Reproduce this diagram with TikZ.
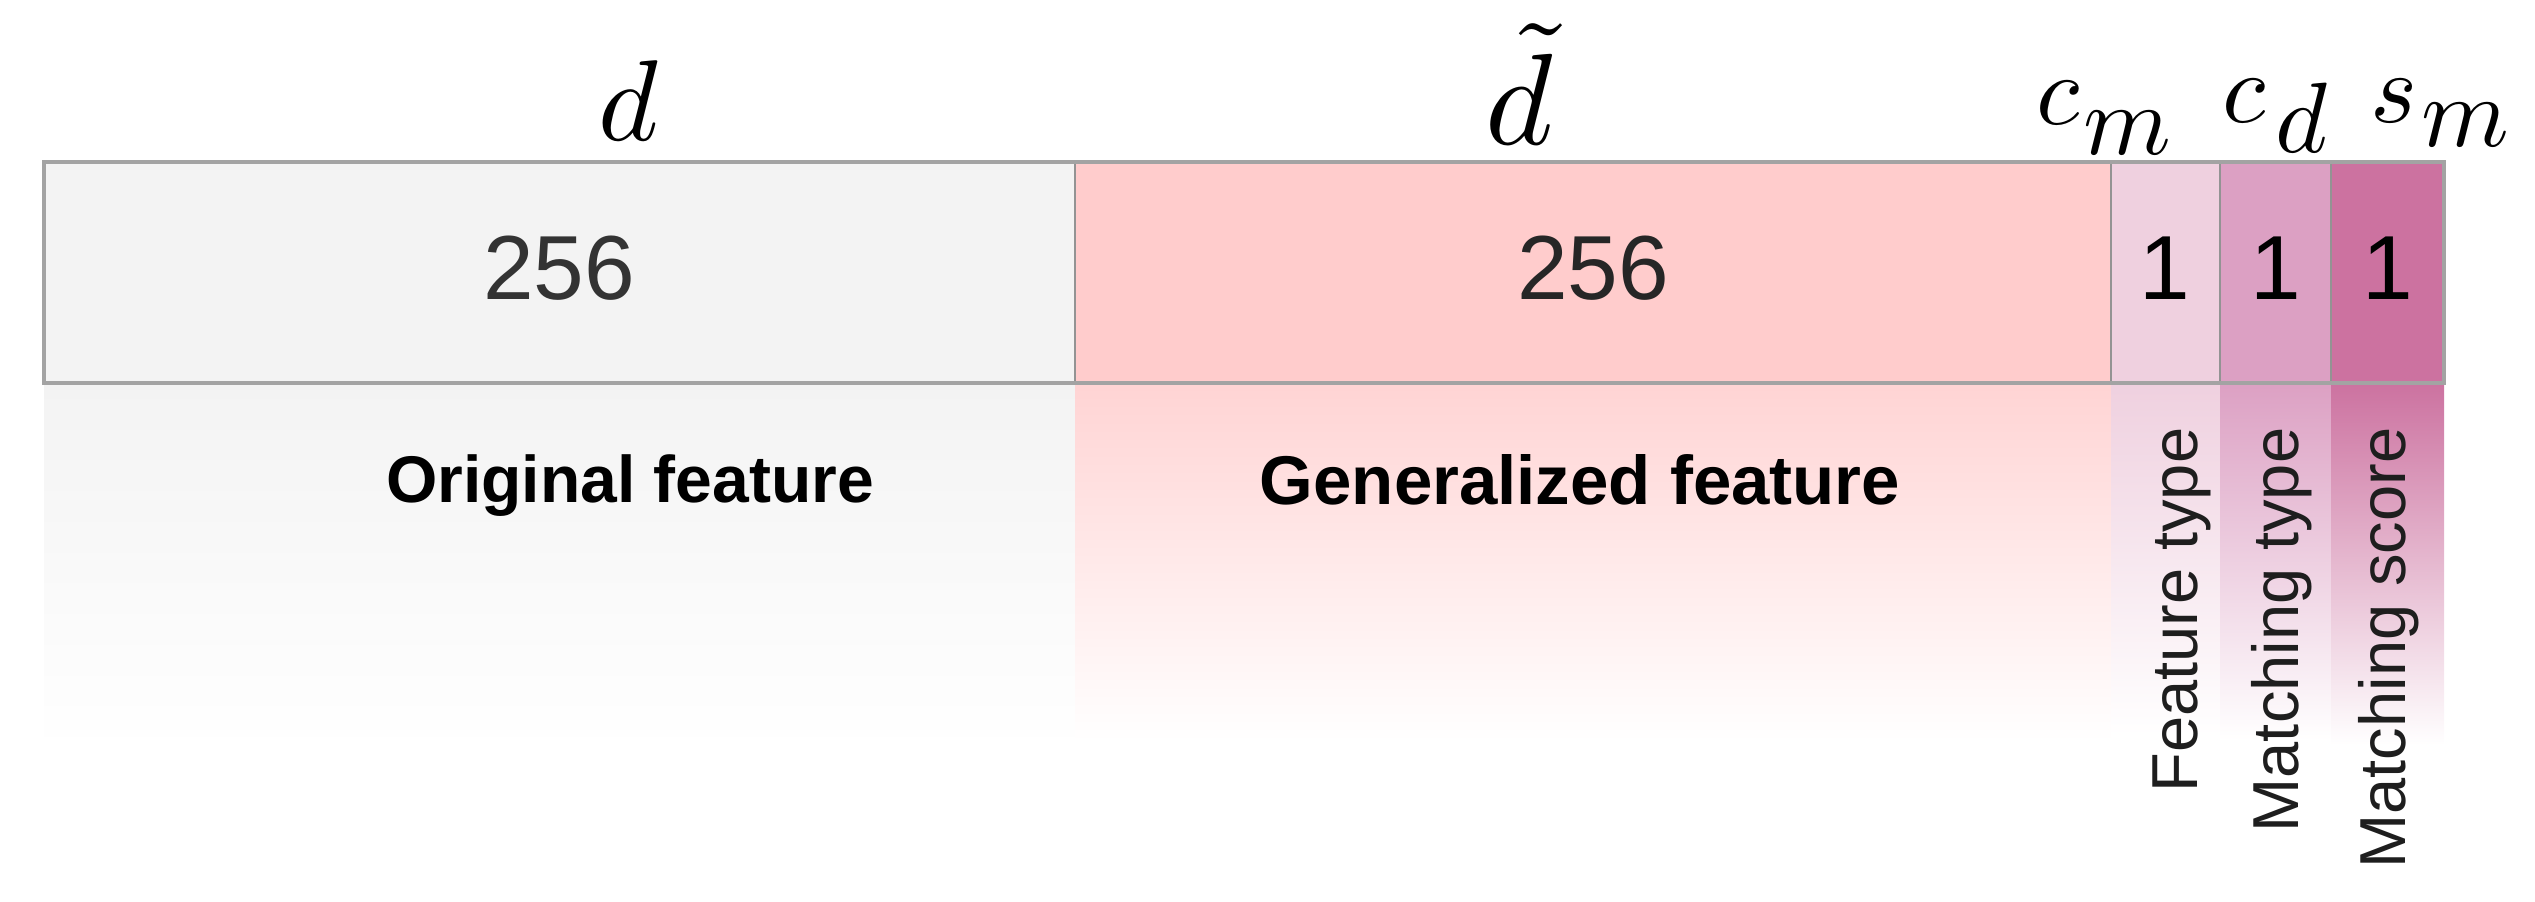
\documentclass[tikz,border=0pt]{standalone}
\usepackage{fontspec}
\setsansfont{Liberation Sans}
\definecolor{origfill}{HTML}{F3F3F3}
\definecolor{genfill}{HTML}{FFCCCC}
\definecolor{ftfill}{HTML}{EFD0DF}
\definecolor{mtfill}{HTML}{DCA0C3}
\definecolor{msfill}{HTML}{CC72A0}
\definecolor{bordergray}{HTML}{A3A3A3}
\definecolor{numgray}{HTML}{333333}
\definecolor{txtdark}{HTML}{1E1E1E}
\begin{document}
\begin{tikzpicture}[x=0.3pt,y=-0.3pt,
  num/.style={font=\sffamily\fontsize{27.3}{30}\selectfont, text=numgray, inner sep=0pt, anchor=base},
  one/.style={font=\sffamily\fontsize{27.3}{30}\selectfont, text=black, inner sep=0pt, anchor=base},
  boldlab/.style={font=\sffamily\bfseries, text=black, inner sep=0pt, anchor=base},
  vlabel/.style={font=\sffamily\fontsize{19.5}{22}\selectfont, text=txtdark, inner sep=0pt, rotate=90, anchor=base east},
  mathlab/.style={inner sep=0pt, anchor=base, font=\fontsize{10}{12}\selectfont},
  border/.style={draw=bordergray, line width=1pt},
  divider/.style={draw=bordergray!90!black, line width=0.6pt}]
\useasboundingbox (0,0) rectangle (2535,902);
% fading areas below the bar
\shade[top color=origfill, bottom color=white] (44,383) rectangle (1075,752);
\shade[top color=genfill!85!white, bottom color=white] (1075,383) rectangle (2111,742);
\shade[top color=ftfill, bottom color=white] (2111,383) rectangle (2220,735);
\shade[top color=mtfill, bottom color=white] (2220,383) rectangle (2331,740);
\shade[top color=msfill, bottom color=white] (2331,383) rectangle (2444,745);
% cells
\fill[origfill] (44,162) rectangle (1075,383);
\fill[genfill] (1075,162) rectangle (2111,383);
\fill[ftfill] (2111,162) rectangle (2220,383);
\fill[mtfill] (2220,162) rectangle (2331,383);
\fill[msfill] (2331,162) rectangle (2444,383);
\draw[divider] (1075,162) -- (1075,383);
\draw[divider] (2111,162) -- (2111,383);
\draw[divider] (2220,162) -- (2220,383);
\draw[divider] (2331,162) -- (2331,383);
\draw[border] (44,162) rectangle (2444,383);
% numbers
\node[num] (n1) at (559,300) {256};
\node[num, text=black!85] (n2) at (1593,300) {256};
\node[one] (n3) at (2165,300) {1};
\node[one] (n4) at (2276,300) {1};
\node[one] (n5) at (2388,300) {1};
% header math labels
\node[mathlab, scale=3.45] (ld) at (628,141) {$d$};
\node[mathlab, scale=3.9] (ldt) at (1519,145) {$\tilde{d}$};
\node[mathlab, scale=3.0] (lcm) at (2104,125) {$c\kern0.04em\lower0.3em\hbox{$m$}$};
\node[mathlab, scale=3.0] (lcd) at (2275,123) {$c\kern0.1em\lower0.3em\hbox{$d$}$};
\node[mathlab, scale=3.0] (lsm) at (2440,123) {$s\kern0.04em\lower0.24em\hbox{$m$}$};
% descriptions
\node[boldlab, font=\sffamily\bfseries\fontsize{19.8}{22}\selectfont] (orig) at (630,503) {Original feature};
\node[boldlab, font=\sffamily\bfseries\fontsize{20.7}{23}\selectfont] (gen) at (1580,505) {Generalized feature};
\node[vlabel] (ft) at (2197,427) {Feature type};
\node[vlabel] (mt) at (2298,427) {Matching type};
\node[vlabel] (ms) at (2405,427) {Matching score};
\end{tikzpicture}
\end{document}
